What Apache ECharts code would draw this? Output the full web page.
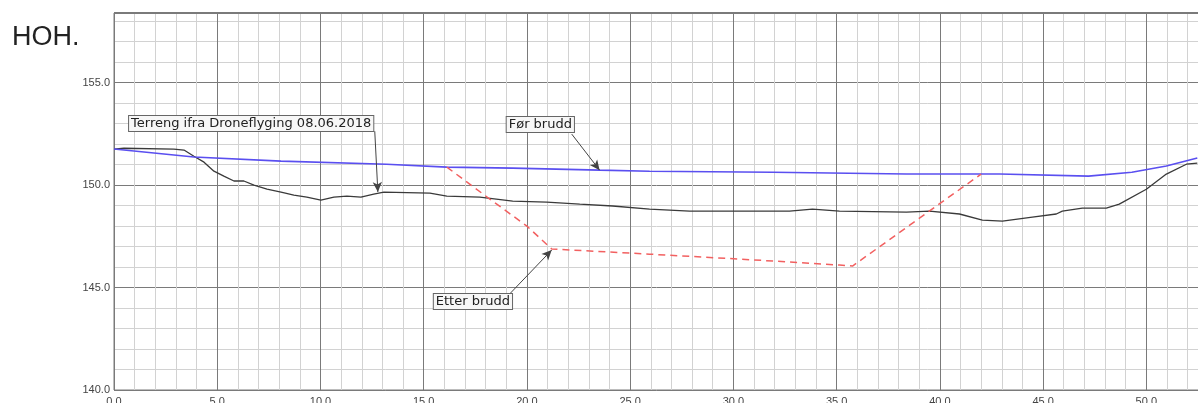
<!DOCTYPE html>
<html><head><meta charset="utf-8">
<script src="https://cdn.jsdelivr.net/npm/echarts@6/dist/echarts.min.js"></script>
<style>html,body{margin:0;padding:0;background:#fff;overflow:hidden}#c{width:1198px;height:403px}</style>
</head><body><div id="c"></div>
<script>
// Terrain from drone survey (black)
const terrainX = [0,0.48,2.9,3.39,3.87,4.36,4.84,5.32,5.81,6.29,6.78,7.41,8.09,8.71,9.34,10.02,10.65,11.28,11.96,12.58,13.07,15.3,16.12,17.72,19.31,20.96,22.56,24.15,25.94,27.88,30.3,32.72,33.83,35.14,38.38,39.5,40.95,42.06,43.03,44.48,45.64,45.93,46.9,48.06,48.69,50.0,50.97,51.94,52.47];
const terrainY = [151.76,151.8,151.76,151.71,151.41,151.12,150.68,150.44,150.2,150.2,150.0,149.8,149.66,149.51,149.41,149.27,149.41,149.46,149.41,149.56,149.66,149.61,149.46,149.41,149.22,149.17,149.07,148.98,148.83,148.73,148.73,148.73,148.83,148.73,148.68,148.73,148.59,148.29,148.24,148.44,148.59,148.73,148.88,148.88,149.07,149.8,150.54,151.02,151.07];
// Før brudd (blue)
const beforeX = [0,3.87,8.09,13.2,16.12,19.31,23.53,25.94,31.9,38.38,42.9,47.2,49.3,50.97,52.47];
const beforeY = [151.76,151.37,151.17,151.02,150.88,150.83,150.73,150.68,150.63,150.54,150.54,150.44,150.63,150.93,151.32];
// Etter brudd (red dashed)
const afterX = [16.12,18.2,20.0,21.2,25.94,30.3,35.14,35.77,42.0];
const afterY = [150.88,149.32,148.0,146.88,146.63,146.39,146.1,146.05,150.54];
// Annotations: label text, box top-left (data), arrow start, arrow end (data)
const annoText = ["Terreng ifra Droneflyging 08.06.2018","Før brudd","Etter brudd"];
const annoBox = [[0.73,153.37],[19.02,153.32],[15.49,144.68]];
const annoFrom = [[12.63,152.63],[22.17,152.49],[19.07,144.59]];
const annoTo = [[12.78,149.66],[23.52,150.73],[21.2,146.83]];
const yTicks = [140,145,150,155];
const xTicks = [0,5,10,15,20,25,30,35,40,45,50];

const zip = (a,b)=>a.map((v,i)=>[v,b[i]]);
const gridColors = ['#7a7a7a','#d2d2d2','#d2d2d2','#d2d2d2','#d2d2d2'];
const font = '"Liberation Sans", Arial, sans-serif';
const annoFont = '"DejaVu Sans", sans-serif';

const chart = echarts.init(document.getElementById('c'), null, {renderer:'canvas'});
chart.setOption({
  animation:false,
  backgroundColor:'#fff',
  grid:{left:114,right:-2,top:13,bottom:13,containLabel:false,outerBoundsMode:'none',
    show:true,borderColor:'#7a7a7a',borderWidth:1},
  xAxis:{type:'value',min:0,max:52.6,interval:1,
    axisLine:{show:false},axisTick:{show:false},
    splitLine:{show:true,lineStyle:{color:gridColors,width:1}},
    axisLabel:{margin:6,color:'#444',fontFamily:font,fontSize:11,hideOverlap:false,
      formatter:v=>xTicks.indexOf(v)>=0?v.toFixed(1):''}},
  yAxis:{type:'value',min:140,max:158.4,interval:1,
    axisLine:{show:false},axisTick:{show:false},
    splitLine:{show:true,lineStyle:{color:gridColors,width:1}},
    axisLabel:{margin:4,color:'#444',fontFamily:font,fontSize:11,hideOverlap:false,
      formatter:v=>yTicks.indexOf(v)>=0?v.toFixed(1):''}},
  series:[
    {type:'line',data:zip(terrainX,terrainY),symbol:'none',lineStyle:{color:'#3a3a3a',width:1.3},z:3},
    {type:'line',data:zip(beforeX,beforeY),symbol:'none',lineStyle:{color:'#5a4ff0',width:1.6},z:4},
    {type:'line',data:zip(afterX,afterY),symbol:'none',lineStyle:{color:'#f26060',width:1.5,type:[7,5]},z:5,
      markLine:{silent:true,symbol:['none','arrow'],symbolSize:[7,10],label:{show:false},
        lineStyle:{color:'#444',type:'solid',width:1},
        data:annoFrom.map((f,i)=>[{coord:f},{coord:annoTo[i]}])}}
  ]
});
const topPx = chart.convertToPixel({gridIndex:0},[0,158.4]);
const g = [{type:'rect',shape:{x:114,y:topPx[1]-1,width:1084,height:2},style:{fill:'#7a7a7a'},z:10},
  {type:'text',left:12,top:24,style:{text:'HOH.',font:'27px '+font,fill:'#222'},z:10}];
annoText.forEach((t,i)=>{
  const p = chart.convertToPixel({gridIndex:0},annoBox[i]);
  g.push({type:'text',x:p[0],y:p[1],z:20,style:{text:t,font:'13px '+annoFont,fill:'#222',
    backgroundColor:'#f7f7f7',borderColor:'#666',borderWidth:1,padding:[1,2,1,2]}});
});
chart.setOption({graphic:g});
</script></body></html>
